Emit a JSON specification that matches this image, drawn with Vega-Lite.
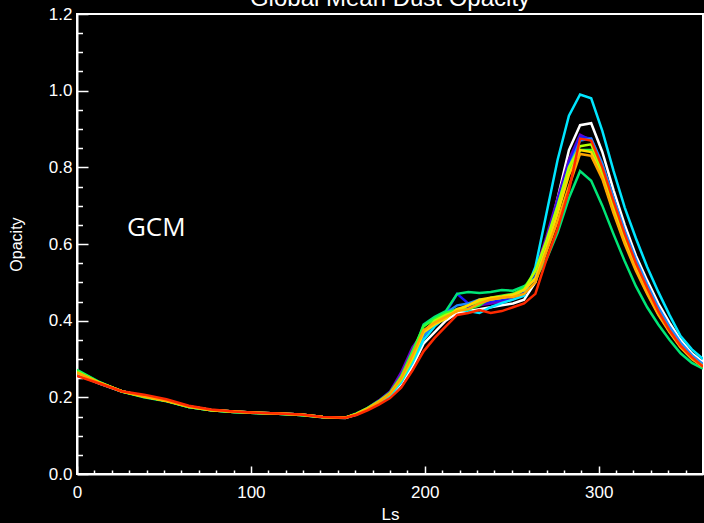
{
"$schema": "https://vega.github.io/schema/vega-lite/v6.json",
"width": 626, "height": 460,
"autosize": {"type": "none"},
"padding": {"left": 77, "top": 14, "right": 1, "bottom": 49},
"background": "black",
"config": {"view": {"stroke": "white", "strokeWidth": 2}, "font": "Liberation Sans"},
"datasets": {
"lbl": [{"Ls": 28.7, "tau": 0.62, "text": "GCM"}],
"ttl": [{"Ls": 180, "tau": 1.222, "text": "Global Mean Dust Opacity"}],
"tau": [
{"s":"white","Ls":0,"tau":0.260},{"s":"white","Ls":12.9,"tau":0.236},{"s":"white","Ls":25.7,"tau":0.215},{"s":"white","Ls":38.6,"tau":0.202},{"s":"white","Ls":51.4,"tau":0.191},{"s":"white","Ls":64.3,"tau":0.175},{"s":"white","Ls":77.1,"tau":0.166},{"s":"white","Ls":90,"tau":0.162},{"s":"white","Ls":102.9,"tau":0.159},{"s":"white","Ls":115.7,"tau":0.157},{"s":"white","Ls":128.6,"tau":0.154},{"s":"white","Ls":141.4,"tau":0.148},{"s":"white","Ls":154.3,"tau":0.146},{"s":"white","Ls":160.7,"tau":0.155},{"s":"white","Ls":167.1,"tau":0.169},{"s":"white","Ls":173.6,"tau":0.186},{"s":"white","Ls":180,"tau":0.203},
{"s":"white","Ls":186.4,"tau":0.235},{"s":"white","Ls":192.9,"tau":0.28},{"s":"white","Ls":199.3,"tau":0.34},{"s":"white","Ls":205.7,"tau":0.37},{"s":"white","Ls":212.1,"tau":0.40},{"s":"white","Ls":218.6,"tau":0.42},{"s":"white","Ls":225,"tau":0.425},{"s":"white","Ls":231.4,"tau":0.43},{"s":"white","Ls":237.9,"tau":0.435},{"s":"white","Ls":244.3,"tau":0.44},{"s":"white","Ls":250.7,"tau":0.445},{"s":"white","Ls":257.1,"tau":0.455},{"s":"white","Ls":263.6,"tau":0.50},{"s":"white","Ls":270,"tau":0.60},{"s":"white","Ls":276.4,"tau":0.72},{"s":"white","Ls":282.9,"tau":0.845},{"s":"white","Ls":289.3,"tau":0.91},{"s":"white","Ls":295.7,"tau":0.915},{"s":"white","Ls":302.1,"tau":0.84},{"s":"white","Ls":308.6,"tau":0.74},{"s":"white","Ls":315,"tau":0.65},{"s":"white","Ls":321.4,"tau":0.57},{"s":"white","Ls":327.9,"tau":0.505},{"s":"white","Ls":334.3,"tau":0.445},{"s":"white","Ls":340.7,"tau":0.395},{"s":"white","Ls":347.1,"tau":0.35},{"s":"white","Ls":353.6,"tau":0.315},{"s":"white","Ls":360,"tau":0.292},

{"s":"purple","Ls":0,"tau":0.262},{"s":"purple","Ls":12.9,"tau":0.237},{"s":"purple","Ls":25.7,"tau":0.216},{"s":"purple","Ls":38.6,"tau":0.203},{"s":"purple","Ls":51.4,"tau":0.192},{"s":"purple","Ls":64.3,"tau":0.176},{"s":"purple","Ls":77.1,"tau":0.167},{"s":"purple","Ls":90,"tau":0.163},{"s":"purple","Ls":102.9,"tau":0.160},{"s":"purple","Ls":115.7,"tau":0.158},{"s":"purple","Ls":128.6,"tau":0.155},{"s":"purple","Ls":141.4,"tau":0.149},{"s":"purple","Ls":154.3,"tau":0.147},{"s":"purple","Ls":160.7,"tau":0.157},{"s":"purple","Ls":167.1,"tau":0.172},{"s":"purple","Ls":173.6,"tau":0.192},{"s":"purple","Ls":180,"tau":0.215},
{"s":"purple","Ls":186.4,"tau":0.265},{"s":"purple","Ls":192.9,"tau":0.33},{"s":"purple","Ls":199.3,"tau":0.37},{"s":"purple","Ls":205.7,"tau":0.395},{"s":"purple","Ls":212.1,"tau":0.415},{"s":"purple","Ls":218.6,"tau":0.43},{"s":"purple","Ls":225,"tau":0.435},{"s":"purple","Ls":231.4,"tau":0.44},{"s":"purple","Ls":237.9,"tau":0.445},{"s":"purple","Ls":244.3,"tau":0.45},{"s":"purple","Ls":250.7,"tau":0.455},{"s":"purple","Ls":257.1,"tau":0.47},{"s":"purple","Ls":263.6,"tau":0.53},{"s":"purple","Ls":270,"tau":0.62},{"s":"purple","Ls":276.4,"tau":0.72},{"s":"purple","Ls":282.9,"tau":0.82},{"s":"purple","Ls":289.3,"tau":0.885},{"s":"purple","Ls":295.7,"tau":0.87},{"s":"purple","Ls":302.1,"tau":0.80},{"s":"purple","Ls":308.6,"tau":0.71},{"s":"purple","Ls":315,"tau":0.625},{"s":"purple","Ls":321.4,"tau":0.55},{"s":"purple","Ls":327.9,"tau":0.485},{"s":"purple","Ls":334.3,"tau":0.428},{"s":"purple","Ls":340.7,"tau":0.378},{"s":"purple","Ls":347.1,"tau":0.337},{"s":"purple","Ls":353.6,"tau":0.306},{"s":"purple","Ls":360,"tau":0.283},

{"s":"blue","Ls":0,"tau":0.263},{"s":"blue","Ls":12.9,"tau":0.237},{"s":"blue","Ls":25.7,"tau":0.216},{"s":"blue","Ls":38.6,"tau":0.203},{"s":"blue","Ls":51.4,"tau":0.192},{"s":"blue","Ls":64.3,"tau":0.176},{"s":"blue","Ls":77.1,"tau":0.167},{"s":"blue","Ls":90,"tau":0.163},{"s":"blue","Ls":102.9,"tau":0.160},{"s":"blue","Ls":115.7,"tau":0.158},{"s":"blue","Ls":128.6,"tau":0.155},{"s":"blue","Ls":141.4,"tau":0.149},{"s":"blue","Ls":154.3,"tau":0.147},{"s":"blue","Ls":160.7,"tau":0.156},{"s":"blue","Ls":167.1,"tau":0.170},{"s":"blue","Ls":173.6,"tau":0.188},{"s":"blue","Ls":180,"tau":0.208},
{"s":"blue","Ls":186.4,"tau":0.25},{"s":"blue","Ls":192.9,"tau":0.30},{"s":"blue","Ls":199.3,"tau":0.36},{"s":"blue","Ls":205.7,"tau":0.40},{"s":"blue","Ls":212.1,"tau":0.42},{"s":"blue","Ls":218.6,"tau":0.47},{"s":"blue","Ls":225,"tau":0.445},{"s":"blue","Ls":231.4,"tau":0.445},{"s":"blue","Ls":237.9,"tau":0.45},{"s":"blue","Ls":244.3,"tau":0.455},{"s":"blue","Ls":250.7,"tau":0.46},{"s":"blue","Ls":257.1,"tau":0.475},{"s":"blue","Ls":263.6,"tau":0.52},{"s":"blue","Ls":270,"tau":0.61},{"s":"blue","Ls":276.4,"tau":0.71},{"s":"blue","Ls":282.9,"tau":0.81},{"s":"blue","Ls":289.3,"tau":0.88},{"s":"blue","Ls":295.7,"tau":0.875},{"s":"blue","Ls":302.1,"tau":0.805},{"s":"blue","Ls":308.6,"tau":0.715},{"s":"blue","Ls":315,"tau":0.63},{"s":"blue","Ls":321.4,"tau":0.555},{"s":"blue","Ls":327.9,"tau":0.49},{"s":"blue","Ls":334.3,"tau":0.43},{"s":"blue","Ls":340.7,"tau":0.38},{"s":"blue","Ls":347.1,"tau":0.34},{"s":"blue","Ls":353.6,"tau":0.308},{"s":"blue","Ls":360,"tau":0.285},

{"s":"dodgerblue","Ls":0,"tau":0.262},{"s":"dodgerblue","Ls":12.9,"tau":0.237},{"s":"dodgerblue","Ls":25.7,"tau":0.216},{"s":"dodgerblue","Ls":38.6,"tau":0.203},{"s":"dodgerblue","Ls":51.4,"tau":0.192},{"s":"dodgerblue","Ls":64.3,"tau":0.176},{"s":"dodgerblue","Ls":77.1,"tau":0.167},{"s":"dodgerblue","Ls":90,"tau":0.163},{"s":"dodgerblue","Ls":102.9,"tau":0.160},{"s":"dodgerblue","Ls":115.7,"tau":0.158},{"s":"dodgerblue","Ls":128.6,"tau":0.155},{"s":"dodgerblue","Ls":141.4,"tau":0.149},{"s":"dodgerblue","Ls":154.3,"tau":0.147},{"s":"dodgerblue","Ls":160.7,"tau":0.156},{"s":"dodgerblue","Ls":167.1,"tau":0.170},{"s":"dodgerblue","Ls":173.6,"tau":0.187},{"s":"dodgerblue","Ls":180,"tau":0.206},
{"s":"dodgerblue","Ls":186.4,"tau":0.24},{"s":"dodgerblue","Ls":192.9,"tau":0.30},{"s":"dodgerblue","Ls":199.3,"tau":0.36},{"s":"dodgerblue","Ls":205.7,"tau":0.395},{"s":"dodgerblue","Ls":212.1,"tau":0.42},{"s":"dodgerblue","Ls":218.6,"tau":0.44},{"s":"dodgerblue","Ls":225,"tau":0.445},{"s":"dodgerblue","Ls":231.4,"tau":0.455},{"s":"dodgerblue","Ls":237.9,"tau":0.455},{"s":"dodgerblue","Ls":244.3,"tau":0.46},{"s":"dodgerblue","Ls":250.7,"tau":0.465},{"s":"dodgerblue","Ls":257.1,"tau":0.48},{"s":"dodgerblue","Ls":263.6,"tau":0.51},{"s":"dodgerblue","Ls":270,"tau":0.60},{"s":"dodgerblue","Ls":276.4,"tau":0.70},{"s":"dodgerblue","Ls":282.9,"tau":0.80},{"s":"dodgerblue","Ls":289.3,"tau":0.87},{"s":"dodgerblue","Ls":295.7,"tau":0.875},{"s":"dodgerblue","Ls":302.1,"tau":0.81},{"s":"dodgerblue","Ls":308.6,"tau":0.72},{"s":"dodgerblue","Ls":315,"tau":0.635},{"s":"dodgerblue","Ls":321.4,"tau":0.56},{"s":"dodgerblue","Ls":327.9,"tau":0.495},{"s":"dodgerblue","Ls":334.3,"tau":0.435},{"s":"dodgerblue","Ls":340.7,"tau":0.385},{"s":"dodgerblue","Ls":347.1,"tau":0.343},{"s":"dodgerblue","Ls":353.6,"tau":0.31},{"s":"dodgerblue","Ls":360,"tau":0.287},

{"s":"cyan","Ls":0,"tau":0.266},{"s":"cyan","Ls":12.9,"tau":0.238},{"s":"cyan","Ls":25.7,"tau":0.216},{"s":"cyan","Ls":38.6,"tau":0.203},{"s":"cyan","Ls":51.4,"tau":0.192},{"s":"cyan","Ls":64.3,"tau":0.176},{"s":"cyan","Ls":77.1,"tau":0.167},{"s":"cyan","Ls":90,"tau":0.163},{"s":"cyan","Ls":102.9,"tau":0.160},{"s":"cyan","Ls":115.7,"tau":0.158},{"s":"cyan","Ls":128.6,"tau":0.155},{"s":"cyan","Ls":141.4,"tau":0.149},{"s":"cyan","Ls":154.3,"tau":0.147},{"s":"cyan","Ls":160.7,"tau":0.156},{"s":"cyan","Ls":167.1,"tau":0.170},{"s":"cyan","Ls":173.6,"tau":0.187},{"s":"cyan","Ls":180,"tau":0.205},
{"s":"cyan","Ls":186.4,"tau":0.24},{"s":"cyan","Ls":192.9,"tau":0.29},{"s":"cyan","Ls":199.3,"tau":0.35},{"s":"cyan","Ls":205.7,"tau":0.385},{"s":"cyan","Ls":212.1,"tau":0.41},{"s":"cyan","Ls":218.6,"tau":0.43},{"s":"cyan","Ls":225,"tau":0.425},{"s":"cyan","Ls":231.4,"tau":0.42},{"s":"cyan","Ls":237.9,"tau":0.435},{"s":"cyan","Ls":244.3,"tau":0.446},{"s":"cyan","Ls":250.7,"tau":0.455},{"s":"cyan","Ls":257.1,"tau":0.465},{"s":"cyan","Ls":263.6,"tau":0.54},{"s":"cyan","Ls":270,"tau":0.68},{"s":"cyan","Ls":276.4,"tau":0.82},{"s":"cyan","Ls":282.9,"tau":0.935},{"s":"cyan","Ls":289.3,"tau":0.99},{"s":"cyan","Ls":295.7,"tau":0.98},{"s":"cyan","Ls":302.1,"tau":0.895},{"s":"cyan","Ls":308.6,"tau":0.79},{"s":"cyan","Ls":315,"tau":0.695},{"s":"cyan","Ls":321.4,"tau":0.615},{"s":"cyan","Ls":327.9,"tau":0.54},{"s":"cyan","Ls":334.3,"tau":0.475},{"s":"cyan","Ls":340.7,"tau":0.415},{"s":"cyan","Ls":347.1,"tau":0.36},{"s":"cyan","Ls":353.6,"tau":0.325},{"s":"cyan","Ls":360,"tau":0.30},

{"s":"springgreen","Ls":0,"tau":0.272},{"s":"springgreen","Ls":12.9,"tau":0.240},{"s":"springgreen","Ls":25.7,"tau":0.215},{"s":"springgreen","Ls":38.6,"tau":0.200},{"s":"springgreen","Ls":51.4,"tau":0.190},{"s":"springgreen","Ls":64.3,"tau":0.175},{"s":"springgreen","Ls":77.1,"tau":0.166},{"s":"springgreen","Ls":90,"tau":0.162},{"s":"springgreen","Ls":102.9,"tau":0.159},{"s":"springgreen","Ls":115.7,"tau":0.157},{"s":"springgreen","Ls":128.6,"tau":0.154},{"s":"springgreen","Ls":141.4,"tau":0.149},{"s":"springgreen","Ls":154.3,"tau":0.147},{"s":"springgreen","Ls":160.7,"tau":0.158},{"s":"springgreen","Ls":167.1,"tau":0.172},{"s":"springgreen","Ls":173.6,"tau":0.190},{"s":"springgreen","Ls":180,"tau":0.212},
{"s":"springgreen","Ls":186.4,"tau":0.25},{"s":"springgreen","Ls":192.9,"tau":0.31},{"s":"springgreen","Ls":199.3,"tau":0.39},{"s":"springgreen","Ls":205.7,"tau":0.41},{"s":"springgreen","Ls":212.1,"tau":0.425},{"s":"springgreen","Ls":218.6,"tau":0.47},{"s":"springgreen","Ls":225,"tau":0.475},{"s":"springgreen","Ls":231.4,"tau":0.472},{"s":"springgreen","Ls":237.9,"tau":0.475},{"s":"springgreen","Ls":244.3,"tau":0.48},{"s":"springgreen","Ls":250.7,"tau":0.478},{"s":"springgreen","Ls":257.1,"tau":0.49},{"s":"springgreen","Ls":263.6,"tau":0.51},{"s":"springgreen","Ls":270,"tau":0.56},{"s":"springgreen","Ls":276.4,"tau":0.63},{"s":"springgreen","Ls":282.9,"tau":0.72},{"s":"springgreen","Ls":289.3,"tau":0.79},{"s":"springgreen","Ls":295.7,"tau":0.765},{"s":"springgreen","Ls":302.1,"tau":0.70},{"s":"springgreen","Ls":308.6,"tau":0.625},{"s":"springgreen","Ls":315,"tau":0.555},{"s":"springgreen","Ls":321.4,"tau":0.49},{"s":"springgreen","Ls":327.9,"tau":0.435},{"s":"springgreen","Ls":334.3,"tau":0.39},{"s":"springgreen","Ls":340.7,"tau":0.35},{"s":"springgreen","Ls":347.1,"tau":0.315},{"s":"springgreen","Ls":353.6,"tau":0.29},{"s":"springgreen","Ls":360,"tau":0.275},

{"s":"green","Ls":0,"tau":0.270},{"s":"green","Ls":12.9,"tau":0.239},{"s":"green","Ls":25.7,"tau":0.216},{"s":"green","Ls":38.6,"tau":0.201},{"s":"green","Ls":51.4,"tau":0.191},{"s":"green","Ls":64.3,"tau":0.175},{"s":"green","Ls":77.1,"tau":0.166},{"s":"green","Ls":90,"tau":0.162},{"s":"green","Ls":102.9,"tau":0.159},{"s":"green","Ls":115.7,"tau":0.157},{"s":"green","Ls":128.6,"tau":0.154},{"s":"green","Ls":141.4,"tau":0.149},{"s":"green","Ls":154.3,"tau":0.147},{"s":"green","Ls":160.7,"tau":0.157},{"s":"green","Ls":167.1,"tau":0.172},{"s":"green","Ls":173.6,"tau":0.190},{"s":"green","Ls":180,"tau":0.212},
{"s":"green","Ls":186.4,"tau":0.255},{"s":"green","Ls":192.9,"tau":0.32},{"s":"green","Ls":199.3,"tau":0.385},{"s":"green","Ls":205.7,"tau":0.405},{"s":"green","Ls":212.1,"tau":0.42},{"s":"green","Ls":218.6,"tau":0.43},{"s":"green","Ls":225,"tau":0.43},{"s":"green","Ls":231.4,"tau":0.44},{"s":"green","Ls":237.9,"tau":0.46},{"s":"green","Ls":244.3,"tau":0.465},{"s":"green","Ls":250.7,"tau":0.47},{"s":"green","Ls":257.1,"tau":0.485},{"s":"green","Ls":263.6,"tau":0.53},{"s":"green","Ls":270,"tau":0.60},{"s":"green","Ls":276.4,"tau":0.69},{"s":"green","Ls":282.9,"tau":0.79},{"s":"green","Ls":289.3,"tau":0.845},{"s":"green","Ls":295.7,"tau":0.845},{"s":"green","Ls":302.1,"tau":0.78},{"s":"green","Ls":308.6,"tau":0.69},{"s":"green","Ls":315,"tau":0.61},{"s":"green","Ls":321.4,"tau":0.54},{"s":"green","Ls":327.9,"tau":0.475},{"s":"green","Ls":334.3,"tau":0.42},{"s":"green","Ls":340.7,"tau":0.372},{"s":"green","Ls":347.1,"tau":0.332},{"s":"green","Ls":353.6,"tau":0.302},{"s":"green","Ls":360,"tau":0.28},

{"s":"lime","Ls":0,"tau":0.266},{"s":"lime","Ls":12.9,"tau":0.238},{"s":"lime","Ls":25.7,"tau":0.216},{"s":"lime","Ls":38.6,"tau":0.202},{"s":"lime","Ls":51.4,"tau":0.191},{"s":"lime","Ls":64.3,"tau":0.176},{"s":"lime","Ls":77.1,"tau":0.167},{"s":"lime","Ls":90,"tau":0.163},{"s":"lime","Ls":102.9,"tau":0.160},{"s":"lime","Ls":115.7,"tau":0.158},{"s":"lime","Ls":128.6,"tau":0.155},{"s":"lime","Ls":141.4,"tau":0.149},{"s":"lime","Ls":154.3,"tau":0.147},{"s":"lime","Ls":160.7,"tau":0.157},{"s":"lime","Ls":167.1,"tau":0.171},{"s":"lime","Ls":173.6,"tau":0.189},{"s":"lime","Ls":180,"tau":0.209},
{"s":"lime","Ls":186.4,"tau":0.245},{"s":"lime","Ls":192.9,"tau":0.30},{"s":"lime","Ls":199.3,"tau":0.37},{"s":"lime","Ls":205.7,"tau":0.40},{"s":"lime","Ls":212.1,"tau":0.415},{"s":"lime","Ls":218.6,"tau":0.425},{"s":"lime","Ls":225,"tau":0.44},{"s":"lime","Ls":231.4,"tau":0.45},{"s":"lime","Ls":237.9,"tau":0.455},{"s":"lime","Ls":244.3,"tau":0.46},{"s":"lime","Ls":250.7,"tau":0.465},{"s":"lime","Ls":257.1,"tau":0.48},{"s":"lime","Ls":263.6,"tau":0.53},{"s":"lime","Ls":270,"tau":0.61},{"s":"lime","Ls":276.4,"tau":0.70},{"s":"lime","Ls":282.9,"tau":0.80},{"s":"lime","Ls":289.3,"tau":0.855},{"s":"lime","Ls":295.7,"tau":0.86},{"s":"lime","Ls":302.1,"tau":0.79},{"s":"lime","Ls":308.6,"tau":0.70},{"s":"lime","Ls":315,"tau":0.615},{"s":"lime","Ls":321.4,"tau":0.543},{"s":"lime","Ls":327.9,"tau":0.478},{"s":"lime","Ls":334.3,"tau":0.422},{"s":"lime","Ls":340.7,"tau":0.374},{"s":"lime","Ls":347.1,"tau":0.334},{"s":"lime","Ls":353.6,"tau":0.303},{"s":"lime","Ls":360,"tau":0.281},

{"s":"gold","Ls":0,"tau":0.264},{"s":"gold","Ls":12.9,"tau":0.238},{"s":"gold","Ls":25.7,"tau":0.216},{"s":"gold","Ls":38.6,"tau":0.202},{"s":"gold","Ls":51.4,"tau":0.191},{"s":"gold","Ls":64.3,"tau":0.176},{"s":"gold","Ls":77.1,"tau":0.167},{"s":"gold","Ls":90,"tau":0.163},{"s":"gold","Ls":102.9,"tau":0.160},{"s":"gold","Ls":115.7,"tau":0.158},{"s":"gold","Ls":128.6,"tau":0.155},{"s":"gold","Ls":141.4,"tau":0.149},{"s":"gold","Ls":154.3,"tau":0.147},{"s":"gold","Ls":160.7,"tau":0.156},{"s":"gold","Ls":167.1,"tau":0.170},{"s":"gold","Ls":173.6,"tau":0.188},{"s":"gold","Ls":180,"tau":0.209},
{"s":"gold","Ls":186.4,"tau":0.25},{"s":"gold","Ls":192.9,"tau":0.305},{"s":"gold","Ls":199.3,"tau":0.37},{"s":"gold","Ls":205.7,"tau":0.39},{"s":"gold","Ls":212.1,"tau":0.405},{"s":"gold","Ls":218.6,"tau":0.43},{"s":"gold","Ls":225,"tau":0.44},{"s":"gold","Ls":231.4,"tau":0.455},{"s":"gold","Ls":237.9,"tau":0.46},{"s":"gold","Ls":244.3,"tau":0.463},{"s":"gold","Ls":250.7,"tau":0.468},{"s":"gold","Ls":257.1,"tau":0.48},{"s":"gold","Ls":263.6,"tau":0.51},{"s":"gold","Ls":270,"tau":0.59},{"s":"gold","Ls":276.4,"tau":0.68},{"s":"gold","Ls":282.9,"tau":0.78},{"s":"gold","Ls":289.3,"tau":0.845},{"s":"gold","Ls":295.7,"tau":0.84},{"s":"gold","Ls":302.1,"tau":0.775},{"s":"gold","Ls":308.6,"tau":0.685},{"s":"gold","Ls":315,"tau":0.605},{"s":"gold","Ls":321.4,"tau":0.535},{"s":"gold","Ls":327.9,"tau":0.473},{"s":"gold","Ls":334.3,"tau":0.418},{"s":"gold","Ls":340.7,"tau":0.372},{"s":"gold","Ls":347.1,"tau":0.332},{"s":"gold","Ls":353.6,"tau":0.302},{"s":"gold","Ls":360,"tau":0.281},

{"s":"orange","Ls":0,"tau":0.265},{"s":"orange","Ls":12.9,"tau":0.238},{"s":"orange","Ls":25.7,"tau":0.216},{"s":"orange","Ls":38.6,"tau":0.202},{"s":"orange","Ls":51.4,"tau":0.191},{"s":"orange","Ls":64.3,"tau":0.176},{"s":"orange","Ls":77.1,"tau":0.167},{"s":"orange","Ls":90,"tau":0.163},{"s":"orange","Ls":102.9,"tau":0.160},{"s":"orange","Ls":115.7,"tau":0.158},{"s":"orange","Ls":128.6,"tau":0.155},{"s":"orange","Ls":141.4,"tau":0.149},{"s":"orange","Ls":154.3,"tau":0.147},{"s":"orange","Ls":160.7,"tau":0.156},{"s":"orange","Ls":167.1,"tau":0.170},{"s":"orange","Ls":173.6,"tau":0.188},{"s":"orange","Ls":180,"tau":0.210},
{"s":"orange","Ls":186.4,"tau":0.25},{"s":"orange","Ls":192.9,"tau":0.31},{"s":"orange","Ls":199.3,"tau":0.375},{"s":"orange","Ls":205.7,"tau":0.395},{"s":"orange","Ls":212.1,"tau":0.41},{"s":"orange","Ls":218.6,"tau":0.425},{"s":"orange","Ls":225,"tau":0.43},{"s":"orange","Ls":231.4,"tau":0.445},{"s":"orange","Ls":237.9,"tau":0.455},{"s":"orange","Ls":244.3,"tau":0.46},{"s":"orange","Ls":250.7,"tau":0.462},{"s":"orange","Ls":257.1,"tau":0.47},{"s":"orange","Ls":263.6,"tau":0.50},{"s":"orange","Ls":270,"tau":0.58},{"s":"orange","Ls":276.4,"tau":0.66},{"s":"orange","Ls":282.9,"tau":0.75},{"s":"orange","Ls":289.3,"tau":0.835},{"s":"orange","Ls":295.7,"tau":0.83},{"s":"orange","Ls":302.1,"tau":0.77},{"s":"orange","Ls":308.6,"tau":0.68},{"s":"orange","Ls":315,"tau":0.60},{"s":"orange","Ls":321.4,"tau":0.53},{"s":"orange","Ls":327.9,"tau":0.47},{"s":"orange","Ls":334.3,"tau":0.415},{"s":"orange","Ls":340.7,"tau":0.37},{"s":"orange","Ls":347.1,"tau":0.33},{"s":"orange","Ls":353.6,"tau":0.30},{"s":"orange","Ls":360,"tau":0.28},

{"s":"red","Ls":0,"tau":0.256},{"s":"red","Ls":12.9,"tau":0.236},{"s":"red","Ls":25.7,"tau":0.216},{"s":"red","Ls":38.6,"tau":0.207},{"s":"red","Ls":51.4,"tau":0.195},{"s":"red","Ls":64.3,"tau":0.178},{"s":"red","Ls":77.1,"tau":0.168},{"s":"red","Ls":90,"tau":0.163},{"s":"red","Ls":102.9,"tau":0.160},{"s":"red","Ls":115.7,"tau":0.158},{"s":"red","Ls":128.6,"tau":0.155},{"s":"red","Ls":141.4,"tau":0.149},{"s":"red","Ls":154.3,"tau":0.147},{"s":"red","Ls":160.7,"tau":0.154},{"s":"red","Ls":167.1,"tau":0.166},{"s":"red","Ls":173.6,"tau":0.181},{"s":"red","Ls":180,"tau":0.198},
{"s":"red","Ls":186.4,"tau":0.225},{"s":"red","Ls":192.9,"tau":0.27},{"s":"red","Ls":199.3,"tau":0.32},{"s":"red","Ls":205.7,"tau":0.355},{"s":"red","Ls":212.1,"tau":0.385},{"s":"red","Ls":218.6,"tau":0.415},{"s":"red","Ls":225,"tau":0.42},{"s":"red","Ls":231.4,"tau":0.428},{"s":"red","Ls":237.9,"tau":0.42},{"s":"red","Ls":244.3,"tau":0.425},{"s":"red","Ls":250.7,"tau":0.435},{"s":"red","Ls":257.1,"tau":0.445},{"s":"red","Ls":263.6,"tau":0.47},{"s":"red","Ls":270,"tau":0.56},{"s":"red","Ls":276.4,"tau":0.64},{"s":"red","Ls":282.9,"tau":0.74},{"s":"red","Ls":289.3,"tau":0.875},{"s":"red","Ls":295.7,"tau":0.87},{"s":"red","Ls":302.1,"tau":0.80},{"s":"red","Ls":308.6,"tau":0.71},{"s":"red","Ls":315,"tau":0.625},{"s":"red","Ls":321.4,"tau":0.55},{"s":"red","Ls":327.9,"tau":0.485},{"s":"red","Ls":334.3,"tau":0.425},{"s":"red","Ls":340.7,"tau":0.375},{"s":"red","Ls":347.1,"tau":0.335},{"s":"red","Ls":353.6,"tau":0.305},{"s":"red","Ls":360,"tau":0.28}
]},
"layer": [
{"data": {"name": "tau"},
 "mark": {"type": "line", "strokeWidth": 2.5, "clip": true},
 "encoding": {
  "x": {"field": "Ls", "type": "quantitative", "scale": {"domain": [0, 360], "nice": false, "zero": false},
        "axis": {"orient": "bottom", "values": [0,10,20,30,40,50,60,70,80,90,100,110,120,130,140,150,160,170,180,190,200,210,220,230,240,250,260,270,280,290,300,310,320,330,340,350], "labelExpr": "datum.value % 100 === 0 ? datum.label : ''", "ticks": true, "tickColor": "white", "tickWidth": 1.5, "tickSize": {"condition": {"test": "datum.value % 100 === 0", "value": -8}, "value": -4}, "grid": false, "domainColor": "white", "domainWidth": 2, "labelColor": "white", "labelFontSize": 17, "labelFont": "Liberation Sans", "labelPadding": 18, "labelFlush": false, "title": "Ls", "titleColor": "white", "titleFontSize": 17, "titleFont": "Liberation Sans", "titleFontWeight": "normal", "titlePadding": 6}},
  "y": {"field": "tau", "type": "quantitative", "scale": {"domain": [0, 1.2], "nice": false, "zero": false},
        "axis": {"orient": "left", "values": [0,0.05,0.1,0.15,0.2,0.25,0.3,0.35,0.4,0.45,0.5,0.55,0.6,0.65,0.7,0.75,0.8,0.85,0.9,0.95,1.0,1.05,1.1,1.15,1.2], "format": ".1f", "labelExpr": "abs(datum.value*5 - round(datum.value*5)) < 0.001 ? datum.label : ''", "ticks": true, "tickColor": "white", "tickWidth": 1.5, "tickSize": {"condition": {"test": "abs(datum.value*5 - round(datum.value*5)) < 0.001", "value": -11}, "value": -5.5}, "grid": false, "domainColor": "white", "domainWidth": 2, "labelColor": "white", "labelFontSize": 17, "labelFont": "Liberation Sans", "labelPadding": 16, "labelFlush": false, "title": "Opacity", "titleColor": "white", "titleFontSize": 16, "titleFont": "Liberation Sans", "titleFontWeight": "normal", "titlePadding": 24}},
  "color": {"field": "s", "type": "nominal", "legend": null,
    "scale": {"domain": ["white", "purple", "blue", "dodgerblue", "cyan", "springgreen", "green", "lime", "gold", "orange", "red"],
              "range": ["#ffffff", "#6a00c8", "#1a1aff", "#1e88ff", "#00e6ff", "#00e676", "#30ff30", "#b4ff00", "#ffd700", "#ffa500", "#ff2a00"]}}
 }},
{"data": {"name": "lbl"},
 "mark": {"type": "text", "align": "left", "baseline": "alphabetic", "font": "Open Sans", "fontSize": 26, "color": "white"},
 "encoding": {
  "x": {"field": "Ls", "type": "quantitative", "scale": {"domain": [0, 360], "nice": false, "zero": false}, "axis": null},
  "y": {"field": "tau", "type": "quantitative", "scale": {"domain": [0, 1.2], "nice": false, "zero": false}, "axis": null},
  "text": {"field": "text"}
 }},
{"data": {"name": "ttl"},
 "mark": {"type": "text", "align": "center", "baseline": "alphabetic", "font": "Liberation Sans", "fontSize": 24, "color": "white", "clip": false},
 "encoding": {
  "x": {"field": "Ls", "type": "quantitative", "scale": {"domain": [0, 360], "nice": false, "zero": false}, "axis": null},
  "y": {"field": "tau", "type": "quantitative", "scale": {"domain": [0, 1.2], "nice": false, "zero": false}, "axis": null},
  "text": {"field": "text"}
 }}
],
"resolve": {"axis": {"x": "independent", "y": "independent"}}
}
